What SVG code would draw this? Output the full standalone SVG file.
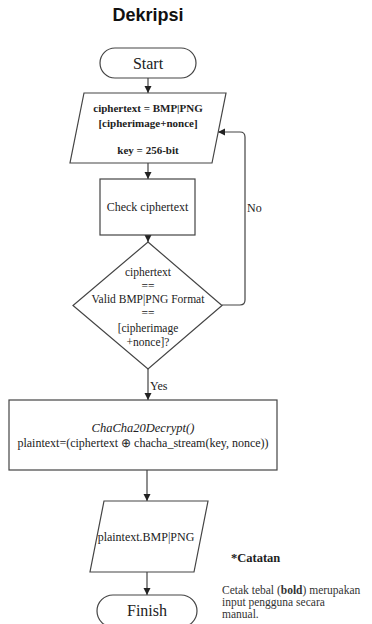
<svg xmlns="http://www.w3.org/2000/svg" width="372" height="624" viewBox="0 0 372 624">
<defs>
<marker id="arr" markerWidth="8" markerHeight="8" refX="7" refY="4" orient="auto" markerUnits="userSpaceOnUse">
<path d="M0,0.5 L7,4 L0,7.5 Z" fill="#222"/>
</marker>
<style>
.shape{fill:#fff;stroke:#444;stroke-width:1.2}
.conn{fill:none;stroke:#444;stroke-width:1.2;marker-end:url(#arr)}
.t{font-family:"Liberation Serif","Times New Roman",serif;fill:#222;text-anchor:middle}
.b{font-weight:bold}
.lbl{font-family:"Liberation Serif","Times New Roman",serif;fill:#222;font-size:12px}
.note{font-family:"Liberation Serif","Times New Roman",serif;fill:#333;font-size:11.5px}
</style>
</defs>
<rect width="372" height="624" fill="#fff"/>
<text x="148" y="21" font-family="Liberation Sans, Arial, sans-serif" font-weight="bold" font-size="18" fill="#111" text-anchor="middle">Dekripsi</text>

<g id="connectors">
<line class="conn" x1="148" y1="78" x2="148" y2="93"/>
<line class="conn" x1="148" y1="163" x2="148" y2="179"/>
<line class="conn" x1="148" y1="235" x2="148" y2="242"/>
<line class="conn" x1="148" y1="369" x2="148" y2="400"/>
<line class="conn" x1="147" y1="470" x2="147" y2="501"/>
<line class="conn" x1="147" y1="572" x2="147" y2="595"/>
<path class="conn" d="M222,305 H240 Q245,305 245,300 V137 Q245,132 240,132 H218"/>
<text class="lbl" x="247" y="212">No</text>
<text class="lbl" x="150" y="390">Yes</text>
</g>

<g id="start">
<rect class="shape" x="100" y="48" width="96" height="30" rx="15"/>
<text class="t" x="148" y="69" font-size="16">Start</text>
</g>

<g id="input">
<polygon class="shape" points="84,93 226,93 212,163 70,163"/>
<text class="t b" x="148" y="112" font-size="11">ciphertext = BMP|PNG</text>
<text class="t b" x="148" y="127" font-size="11">[cipherimage+nonce]</text>
<text class="t b" x="148" y="154" font-size="11">key = 256-bit</text>
</g>

<g id="check">
<rect class="shape" x="100" y="179" width="95" height="56"/>
<text class="t" x="147.5" y="211" font-size="12">Check ciphertext</text>
</g>

<g id="decision">
<polygon class="shape" points="148,242 222,305.5 148,369 73,305.5"/>
<text class="t" x="148" y="276" font-size="11.5">ciphertext</text>
<text class="t" x="148" y="290" font-size="11.5">==</text>
<text class="t" x="148" y="303" font-size="11.5">Valid BMP|PNG Format</text>
<text class="t" x="148" y="317" font-size="11.5">==</text>
<text class="t" x="148" y="332" font-size="11.5">[cipherimage</text>
<text class="t" x="148" y="346" font-size="11.5">+nonce]?</text>
</g>

<g id="decrypt">
<rect class="shape" x="9" y="400" width="268" height="70"/>
<text class="t" x="143" y="432" font-size="12.5" font-style="italic">ChaCha20Decrypt()</text>
<text class="t" x="143" y="447" font-size="12">plaintext=(ciphertext ⊕ chacha_stream(key, nonce))</text>
</g>

<g id="output">
<polygon class="shape" points="104,501 208,501 194,572 90,572"/>
<text class="t" x="146" y="541" font-size="12">plaintext.BMP|PNG</text>
</g>

<g id="finish">
<rect class="shape" x="97" y="595" width="100" height="32" rx="16"/>
<text class="t" x="147" y="616" font-size="16">Finish</text>
</g>

<g id="note">
<text x="231" y="562" font-family="Liberation Serif, Times New Roman, serif" font-size="12.5" font-weight="bold" fill="#222">*Catatan</text>
<text class="note" x="222" y="594">Cetak tebal (<tspan font-weight="bold">bold</tspan>) merupakan</text>
<text class="note" x="222" y="606">input pengguna secara</text>
<text class="note" x="222" y="618">manual.</text>
</g>
</svg>
